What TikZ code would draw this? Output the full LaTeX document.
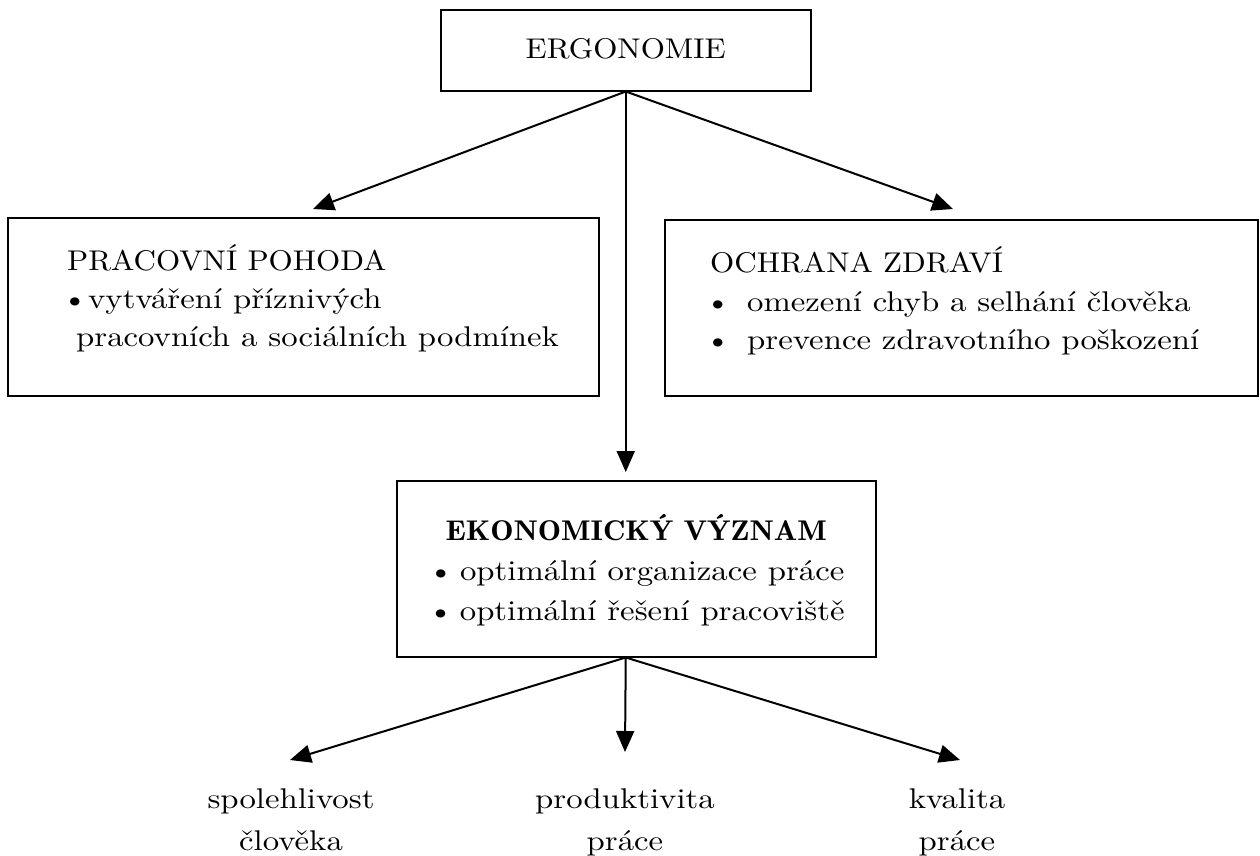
\documentclass[tikz,border=0pt]{standalone}
\usepackage{fontspec}
\setmainfont{lmroman10-regular.otf}[FakeStretch=1.09, BoldFont=lmromandemi10-regular.otf]
\newfontfamily\lowfont{lmroman10-regular.otf}[FakeStretch=1.15]
\usetikzlibrary{arrows.meta}
\begin{document}
\begin{tikzpicture}[x=1pt,y=-1pt,
  box/.style={draw, line width=1.5pt, inner sep=0pt, anchor=north west},
  txt/.style={anchor=base west, inner sep=0pt, font=\fontsize{28.5}{34}\selectfont},
  ltxt/.style={anchor=base west, inner sep=0pt, font=\fontsize{28.5}{34}\lowfont},
  ctr/.style={anchor=base, inner sep=0pt, font=\fontsize{28.5}{34}\selectfont},
  lctr/.style={anchor=base, inner sep=0pt, font=\fontsize{28.5}{34}\lowfont},
  arr/.style={line width=2pt, -{Triangle[length=21pt,width=18pt]}}]
\useasboundingbox (0,0) rectangle (1260,855);
% boxes
\node[box, minimum width=370pt, minimum height=81pt] (ergo) at (440,9) {};
\node[ctr] (ergot) at (ergo.center |- 0,58) {ERGONOMIE};
\node[box, minimum width=591pt, minimum height=178pt] (pp) at (7,217) {};
\node[box, minimum width=593pt, minimum height=176pt] (oz) at (664,219) {};
\node[box, minimum width=479pt, minimum height=176pt] (ek) at (396,480) {};
% left box text
\node[txt] (ppt) at (67,270) {PRACOVNÍ POHODA};
\node[ltxt] (pp1) at (62,308) {\makebox[26pt][l]{•}vytváření příznivých};
\node[ltxt] (pp2) at (76,346) {pracovních a sociálních podmínek};
% right box text
\node[txt] (ozt) at (710,272) {OCHRANA ZDRAVÍ};
\node[ltxt] (oz1) at (705,311) {\makebox[42pt][l]{•}omezení chyb a selhání člověka};
\node[ltxt] (oz2) at (705,349) {\makebox[42pt][l]{•}prevence zdravotního poškození};
% economic box text
\node[ctr] (ekt) at (ek.center |- 0,540) {\bfseries EKONOMICKÝ VÝZNAM};
\node[lctr] (ek1) at (ek.center |- 0,580) {\makebox[32pt][l]{•}optimální organizace práce};
\node[lctr] (ek2) at (ek.center |- 0,620) {\makebox[32pt][l]{•}optimální řešení pracoviště};
% bottom texts
\node[lctr] (sp1) at (291,808) {spolehlivost};
\node[lctr] (sp2) at (291,850) {člověka};
\node[lctr] (pr1) at (625,808) {produktivita};
\node[lctr] (pr2) at (625,850) {práce};
\node[lctr] (kv1) at (957,808) {kvalita};
\node[lctr] (kv2) at (957,850) {práce};
% arrow ends
\coordinate (tL) at (313,209);
\coordinate (tR) at (953,209);
\coordinate (apex) at (ergo.south |- ek.south);
\coordinate (bL) at (290,760);
\coordinate (bC) at (625,752);
\coordinate (bR) at (960,760);
% arrows
\draw[arr] (ergo.south) -- (tL);
\draw[arr] (ergo.south) -- (tR);
\draw[arr, shorten >=8pt] (ergo.south) -- (ergo.south |- ek.north);
\draw[arr] (apex) -- (bL);
\draw[arr] (apex) -- (bC);
\draw[arr] (apex) -- (bR);
\end{tikzpicture}
\end{document}
